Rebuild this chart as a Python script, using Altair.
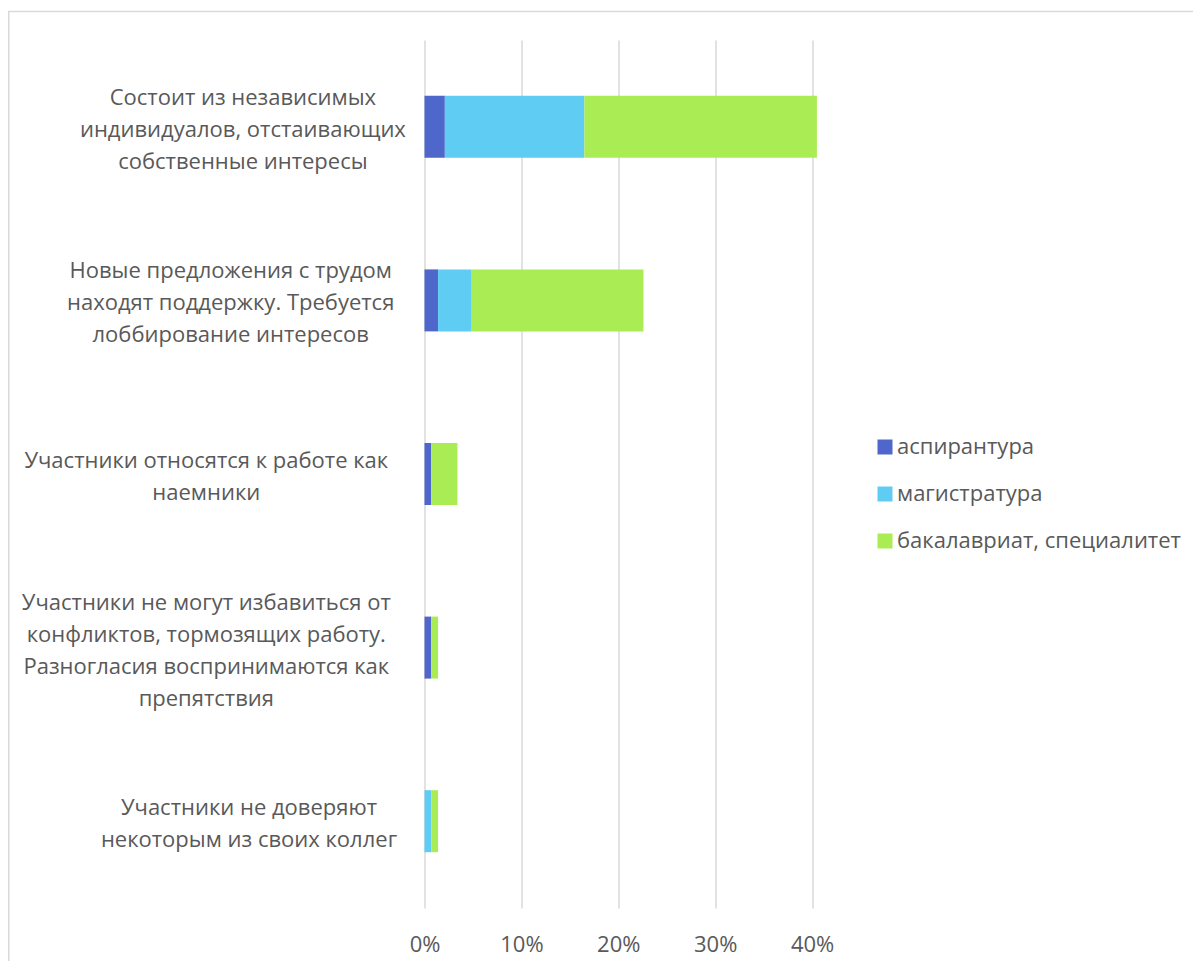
import altair as alt
import pandas as pd

categories = [
    "Состоит из независимых|индивидуалов, отстаивающих|собственные интересы",
    "Новые предложения с трудом|находят поддержку. Требуется|лоббирование интересов",
    "Участники относятся к работе как|наемники",
    "Участники не могут избавиться от|конфликтов, тормозящих работу.|Разногласия воспринимаются как|препятствия",
    "Участники не доверяют|некоторым из своих коллег",
]
series = ["аспирантура", "магистратура", "бакалавриат, специалитет"]
aspirantura = [2.1, 1.4, 0.7, 0.7, 0.0]
magistratura = [14.4, 3.4, 0.0, 0.0, 0.7]
bakalavriat = [24.0, 17.8, 2.7, 0.7, 0.7]
colors = ["#4F66CA", "#5FCDF3", "#AAEC53"]
x_ticks = [0, 10, 20, 30, 40]

rows = []
for vals, s, o in zip([aspirantura, magistratura, bakalavriat], series, range(3)):
    for c, v in zip(categories, vals):
        rows.append({"cat": c, "series": s, "value": v, "ord": o})
df = pd.DataFrame(rows)

lab = pd.DataFrame({
    "cat": categories,
    "maxlen": [max(len(p) for p in c.split("|")) for c in categories],
    "nlines": [len(c.split("|")) for c in categories],
})

W, H = 436, 868
PL, PT = 416.5, 32
FONT = "Open Sans"
GREY = "#595959"
LH = 32
HALF_BAND = H / len(categories) / 2

bars = alt.Chart(df).mark_bar(size=62).encode(
    y=alt.Y("cat:N", sort=categories, title=None,
            scale=alt.Scale(paddingInner=0, paddingOuter=0),
            axis=None),
    x=alt.X("value:Q", stack="zero", title=None,
            scale=alt.Scale(domain=[0, 45], nice=False),
            axis=alt.Axis(values=x_ticks, labelExpr="datum.value + '%'",
                          domain=False, ticks=False, grid=True,
                          gridColor="#d9d9d9", gridWidth=1.5,
                          labelFlush=False, labelOverlap=False,
                          labelPadding=26, labelFontSize=22,
                          labelFont=FONT, labelColor=GREY)),
    color=alt.Color("series:N", sort=series,
                    scale=alt.Scale(domain=series, range=colors),
                    legend=alt.Legend(title=None, orient="none",
                                      legendX=449.5, legendY=396,
                                      symbolType="square", symbolSize=225,
                                      symbolStrokeWidth=0, rowPadding=25,
                                      labelFontSize=22, labelFont=FONT,
                                      labelColor=GREY, labelOffset=1,
                                      labelLimit=400)),
    order=alt.Order("ord:Q"),
)

labels = alt.Chart(lab).transform_calculate(
    px="-23 - datum.maxlen * 6.1",
    oy=f"{HALF_BAND + 3} - (datum.nlines - 1) * {LH / 2}",
).mark_text(
    align="center", baseline="middle", lineBreak="|", lineHeight=LH,
    fontSize=22, font=FONT, color=GREY, clip=False
).encode(
    y=alt.Y("cat:N", sort=categories),
    yOffset=alt.YOffset("oy:Q", scale=None),
    x=alt.X("px:Q", scale=None),
    text="cat:N",
)

frame = alt.Chart(pd.DataFrame({"a": [0]})).mark_rect(
    fill=None, stroke="#d9d9d9", strokeWidth=1.5, clip=False
).encode(
    x=alt.value(-PL + 0.75), y=alt.value(-PT + 3.5),
    x2=alt.value(2000), y2=alt.value(2000),
)

chart = alt.layer(frame, bars, labels).properties(
    width=W, height=H,
    autosize=alt.AutoSizeParams(type="none"),
    padding={"left": PL, "top": PT, "right": 1185 - PL - W, "bottom": 953 - PT - H},
).configure_view(stroke=None)

chart.save("out.html", embed_options={"renderer": "svg", "actions": False})
